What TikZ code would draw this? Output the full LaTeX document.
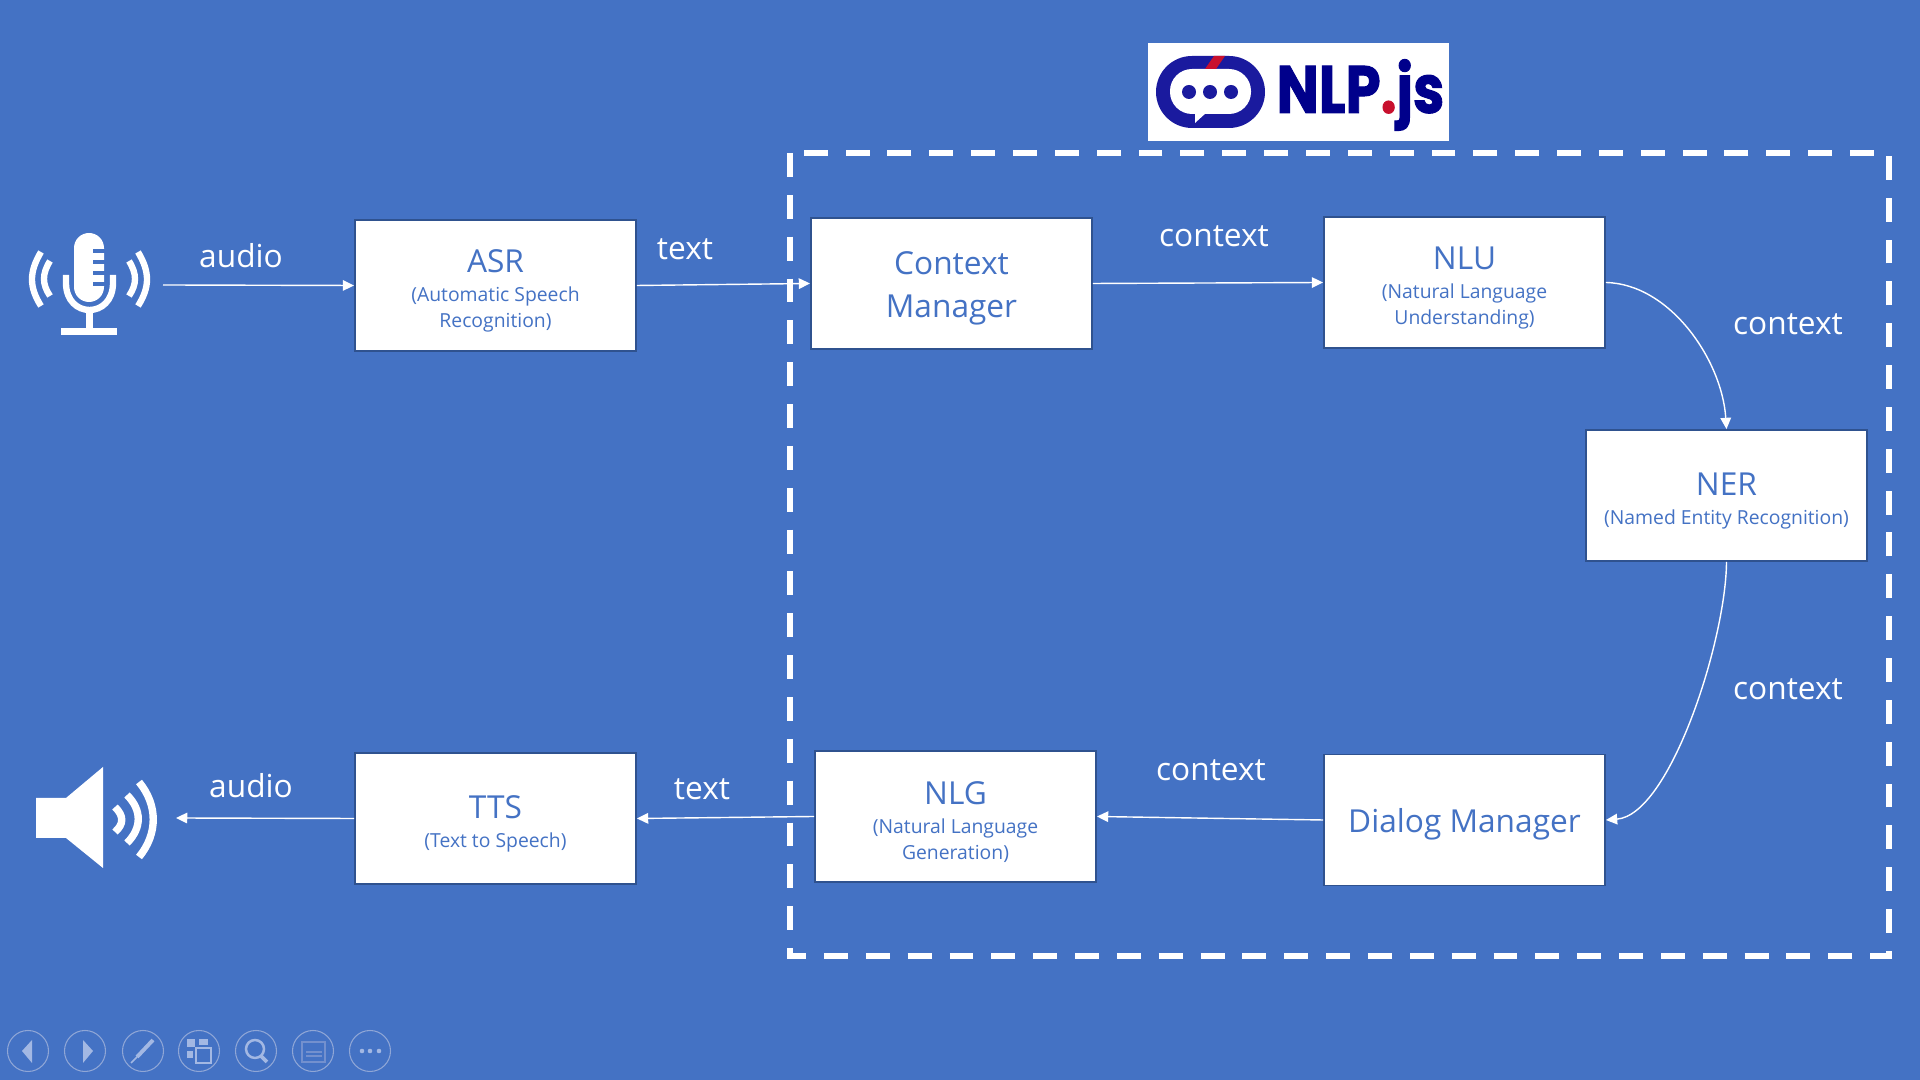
\documentclass[tikz,border=0pt]{standalone}
\usepackage{fontspec}
\setmainfont{Open Sans}
\newfontfamily\logofont[BoldFeatures={FakeBold=1.5}]{Poppins}
\usetikzlibrary{arrows.meta}
\definecolor{slideblue}{HTML}{4472C4}
\definecolor{boxline}{HTML}{2F528F}
\definecolor{logoblue}{HTML}{00008B}
\definecolor{ringblue}{HTML}{1A1A9E}
\definecolor{logored}{HTML}{C8102E}
\definecolor{toolline}{HTML}{8FA6D6}
\definecolor{toolfill}{HTML}{A3B8E3}
\definecolor{tooldim}{HTML}{7390CE}
\newcommand{\boxtitle}[1]{{\fontsize{9pt}{11pt}\selectfont\rule{0pt}{9.6pt}#1}\\[1pt]}
\newcommand{\boxsub}{\fontsize{5.5pt}{7.4pt}\selectfont}
\newcommand{\boxbig}{\fontsize{9pt}{12.2pt}\selectfont}
\tikzset{
  modbox/.style={draw=boxline, line width=0.5pt, fill=white, text=slideblue, align=center,
    minimum width=2.81cm, minimum height=1.31cm, inner sep=0pt, font=\boxsub},
  flow/.style={draw=white, line width=0.4pt, -{Triangle[length=3.2pt,width=3pt]}},
  flowlabel/.style={text=white, inner sep=0pt, font=\fontsize{9pt}{11pt}\selectfont},
  icon/.style={fill=white, draw=none},
  iconline/.style={draw=white, line width=1.8pt},
  waveline/.style={draw=white, line width=2.1pt},
  toolicon/.style={fill=toolfill, draw=none}
}
\begin{document}
\begin{tikzpicture}[x=0.01cm,y=-0.01cm]
\useasboundingbox (0,0) rectangle (1920,1080);
\fill[slideblue] (0,0) rectangle (1920,1080);

% Free ends of the arrows
\coordinate (micout) at (163,285);
\coordinate (spkin) at (176,818);

% Dashed frame
\draw[white, line width=1.7pt, dash pattern=on 6.8pt off 5.1pt] (790,153) rectangle (1889,956);

% Boxes
\node[modbox] (asr) at (495.5,285.5) {\boxtitle{ASR}(Automatic Speech\\Recognition)};
\node[modbox, font=\boxbig] (ctx) at (951.5,283.5) {\rule{0pt}{9.2pt}Context\\Manager};
\node[modbox] (nlu) at (1464.5,282.5) {\boxtitle{NLU}(Natural Language\\Understanding)};
\node[modbox] (ner) at (1726.5,495.5) {\boxtitle{NER}(Named Entity Recognition)};
\node[modbox, font=\boxbig] (dlg) at (1464.5,820) {\rule{0pt}{9.2pt}Dialog Manager};
\node[modbox] (nlg) at (955.5,816.5) {\boxtitle{NLG}(Natural Language\\Generation)};
\node[modbox] (tts) at (495.5,818.5) {\boxtitle{TTS}(Text to Speech)};

% Arrows
\draw[flow] (micout) -- (asr.west);
\draw[flow] (asr.east) -- (ctx.west);
\draw[flow] (ctx.east) -- (nlu.west);
\draw[flow] (nlu.east) .. controls (1670,284) and (1722,360) .. (ner.north);
\draw[flow] (ner.south) .. controls (1726,640) and (1670,815) .. (dlg.east);
\draw[flow] (dlg.west) -- (nlg.east);
\draw[flow] (nlg.west) -- (tts.east);
\draw[flow] (tts.west) -- (spkin);

% Labels
\node[flowlabel] (lbaudioa) at (241,256) {audio};
\node[flowlabel] (lbtexta) at (685,249) {text};
\node[flowlabel] (lbctxa) at (1214,236) {context};
\node[flowlabel] (lbctxb) at (1788,324) {context};
\node[flowlabel] (lbctxc) at (1788,689) {context};
\node[flowlabel] (lbctxd) at (1211,770) {context};
\node[flowlabel] (lbtextb) at (702,789) {text};
\node[flowlabel] (lbaudiob) at (251,786) {audio};

% Microphone
\fill[icon, rounded corners=1.5mm] (74,233) rectangle (104,302);
\fill[slideblue] (93,249) rectangle (105,253);
\fill[slideblue] (93,260) rectangle (105,264);
\fill[slideblue] (93,271) rectangle (105,275);
\fill[slideblue] (93,282) rectangle (105,286);
\draw[iconline] (66,275) -- (66,283) .. controls (66,319) and (113,319) .. (113,283) -- (113,275);
\fill[icon] (86,312) rectangle (93,330);
\fill[icon] (61,328) rectangle (117,335);
\draw[iconline] (41,252) .. controls (29,272) and (29,287) .. (41,306);
\draw[iconline] (50,261) .. controls (42,274) and (42,284) .. (50,296);
\draw[iconline] (138,252) .. controls (150,272) and (150,287) .. (138,306);
\draw[iconline] (129,261) .. controls (137,274) and (137,284) .. (129,296);

% Speaker
\fill[icon] (36,798) -- (66,798) -- (103,767) -- (103,868) -- (66,838) -- (36,838) -- cycle;
\draw[waveline] (115,807) .. controls (124,816) and (124,824) .. (115,832);
\draw[waveline] (127,795) .. controls (142,810) and (142,828) .. (127,843);
\draw[waveline] (139,782) .. controls (158,805) and (158,834) .. (139,857);

% Logo
\fill[white] (1148,43) rectangle (1449,141);
\fill[ringblue, rounded corners=3.6mm] (1156,56) rectangle (1265,128);
\fill[white, rounded corners=2.2mm] (1170,69) rectangle (1251,114);
\fill[white] (1195,113) -- (1195,123) -- (1206,113) -- cycle;
\fill[logored] (1214,56) -- (1225,56) -- (1216,69) -- (1205,69) -- cycle;
\foreach \x in {1189,1210,1231}
  \fill[ringblue] (\x,92) circle (7);
\node[inner sep=0pt, text=logoblue] (logotxt) at (1360.5,95)
  {\scalebox{0.84}[1]{\logofont\bfseries\fontsize{19pt}{19pt}\selectfont NLP{\color{logored}.}js}};

% Toolbar at the bottom
\foreach \x in {28,85,143,199,256,313,370}
  \draw[toolline, line width=0.3pt] (\x,1051) circle (20.5);
\fill[toolicon] (22,1051) -- (32,1040) -- (32,1063) -- cycle;
\fill[toolicon] (93,1051) -- (83,1040) -- (83,1063) -- cycle;
\draw[toolfill, line width=1.1pt] (153,1040) -- (137,1057);
\draw[toolfill, line width=0.5pt] (137,1057) -- (131,1063);
\fill[toolicon] (187,1039) rectangle (195,1047);
\fill[toolicon] (199,1039) rectangle (208,1045);
\fill[toolicon] (187,1051) rectangle (193,1058);
\draw[toolfill, line width=0.5pt] (196,1048) rectangle (211,1063);
\draw[toolfill, line width=0.7pt] (255,1049) circle (9);
\draw[toolfill, line width=1.1pt] (261,1056) -- (267,1062);
\draw[tooldim, line width=0.4pt] (302,1042) rectangle (325,1062);
\draw[tooldim, line width=0.3pt] (306,1052) -- (322,1052);
\draw[tooldim, line width=0.3pt] (306,1056) -- (322,1056);
\foreach \x in {362,370,379}
  \fill[toolicon] (\x,1051) circle (2.3);
\end{tikzpicture}
\end{document}
